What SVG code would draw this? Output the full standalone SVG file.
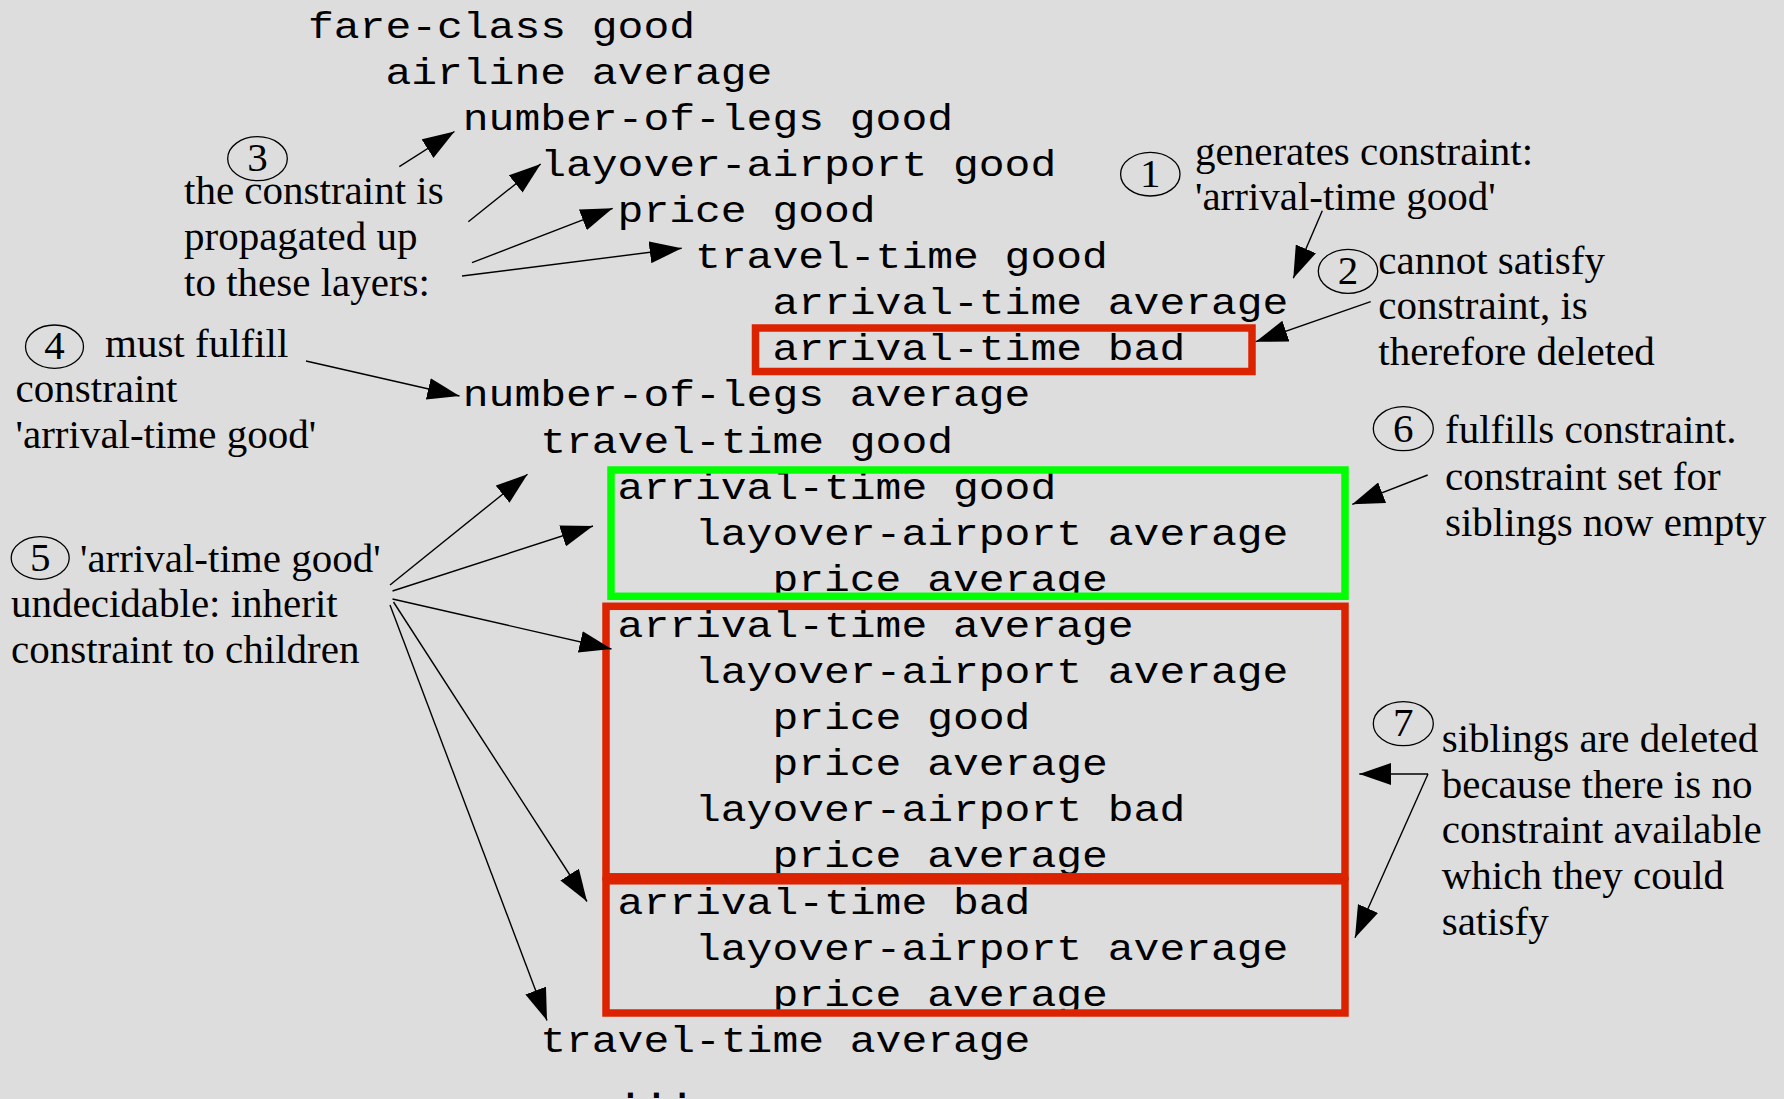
<svg xmlns="http://www.w3.org/2000/svg" width="1784" height="1099" viewBox="0 0 1784 1099">
  <style>
    .mono { font-family: "Liberation Mono", "Courier New", monospace; font-size: 43px; fill: #000; }
    .serif { font-family: "Liberation Serif", "Times New Roman", serif; font-size: 41px; fill: #000; }
    .num { font-family: "Liberation Serif", "Times New Roman", serif; font-size: 41px; fill: #000; text-anchor: middle; }
    .badge { fill: none; stroke: #000; stroke-width: 1.3; }
    .bad { fill: none; stroke: #dc2300; stroke-width: 7.5; }
    .ok { fill: none; stroke: #00ff00; stroke-width: 7.5; }
    .link { fill: none; stroke: #000; stroke-width: 1.4; marker-end: url(#head); }
  </style>
  <defs>
    <marker id="head" markerUnits="userSpaceOnUse" viewBox="0 0 32 22" markerWidth="32" markerHeight="22" refX="32" refY="11" orient="auto">
      <path d="M0,0 L32,11 L0,22 z" fill="#000"/>
    </marker>
  </defs>

  <rect x="0" y="0" width="1784" height="1099" fill="#dddddd"/>

  <!-- search tree, one line per node, indented by depth; glyphs slightly flattened
       (baselines below are divided by the 0.87 vertical scale) -->
  <g id="tree" transform="scale(1,0.87)">
    <text id="n0" class="mono" x="308" y="43.333">fare-class good</text>
    <text id="n1" class="mono" x="385.4" y="96.322">airline average</text>
    <text id="n2" class="mono" x="462.8" y="149.310">number-of-legs good</text>
    <text id="n3" class="mono" x="540.2" y="202.299">layover-airport good</text>
    <text id="n4" class="mono" x="617.6" y="255.287">price good</text>
    <text id="n5" class="mono" x="695" y="308.276">travel-time good</text>
    <text id="n6" class="mono" x="772.4" y="361.264">arrival-time average</text>
    <text id="n7" class="mono" x="772.4" y="414.253">arrival-time bad</text>
    <text id="n8" class="mono" x="462.8" y="467.241">number-of-legs average</text>
    <text id="n9" class="mono" x="540.2" y="520.230">travel-time good</text>
    <text id="n10" class="mono" x="617.6" y="573.218">arrival-time good</text>
    <text id="n11" class="mono" x="695" y="626.207">layover-airport average</text>
    <text id="n12" class="mono" x="772.4" y="679.195">price average</text>
    <text id="n13" class="mono" x="617.6" y="732.184">arrival-time average</text>
    <text id="n14" class="mono" x="695" y="785.172">layover-airport average</text>
    <text id="n15" class="mono" x="772.4" y="838.161">price good</text>
    <text id="n16" class="mono" x="772.4" y="891.149">price average</text>
    <text id="n17" class="mono" x="695" y="944.138">layover-airport bad</text>
    <text id="n18" class="mono" x="772.4" y="997.126">price average</text>
    <text id="n19" class="mono" x="617.6" y="1050.115">arrival-time bad</text>
    <text id="n20" class="mono" x="695" y="1103.103">layover-airport average</text>
    <text id="n21" class="mono" x="772.4" y="1156.092">price average</text>
    <text id="n22" class="mono" x="540.2" y="1209.080">travel-time average</text>
    <text id="n23" class="mono" x="617.6" y="1262.069">...</text>
  </g>

  <!-- highlight frames: deleted (red) and fulfilled (green) -->
  <g id="frames">
    <rect id="frame-deleted-1" class="bad" x="755.5" y="328" width="496.5" height="43.5"/>
    <rect id="frame-fulfilled" class="ok" x="611" y="470" width="734" height="126.3"/>
    <rect id="frame-deleted-2" class="bad" x="606" y="606.3" width="739" height="270.5"/>
    <rect id="frame-deleted-3" class="bad" x="606" y="880.8" width="739" height="132.2"/>
  </g>

  <!-- numbered annotations -->
  <g id="note1">
    <ellipse class="badge" cx="1150.3" cy="174.2" rx="29.7" ry="21.8"/>
    <text class="num" x="1150.3" y="186.5">1</text>
    <text class="serif" x="1195" y="165">generates constraint:</text>
    <text class="serif" x="1195" y="210">'arrival-time good'</text>
  </g>
  <g id="note2">
    <ellipse class="badge" cx="1348" cy="271.3" rx="29.7" ry="22"/>
    <text class="num" x="1348" y="283.5">2</text>
    <text class="serif" x="1378.3" y="273.5">cannot satisfy</text>
    <text class="serif" x="1378.3" y="319">constraint, is</text>
    <text class="serif" x="1378.3" y="364.5">therefore deleted</text>
  </g>
  <g id="note3">
    <ellipse class="badge" cx="257.5" cy="158.7" rx="29.8" ry="22"/>
    <text class="num" x="257.5" y="171">3</text>
    <text class="serif" x="184" y="204">the constraint is</text>
    <text class="serif" x="184" y="250">propagated up</text>
    <text class="serif" x="184" y="296">to these layers:</text>
  </g>
  <g id="note4">
    <ellipse class="badge" cx="54.5" cy="346.7" rx="29" ry="21.7"/>
    <text class="num" x="54.5" y="358.5">4</text>
    <text class="serif" x="105" y="356.7">must fulfill</text>
    <text class="serif" x="15.6" y="402">constraint</text>
    <text class="serif" x="15.6" y="447.5">'arrival-time good'</text>
  </g>
  <g id="note5">
    <ellipse class="badge" cx="40.2" cy="558" rx="29" ry="21.3"/>
    <text class="num" x="40.2" y="570.5">5</text>
    <text class="serif" x="80" y="571.7">'arrival-time good'</text>
    <text class="serif" x="11" y="617">undecidable: inherit</text>
    <text class="serif" x="11" y="663">constraint to children</text>
  </g>
  <g id="note6">
    <ellipse class="badge" cx="1403.3" cy="428.7" rx="30" ry="22"/>
    <text class="num" x="1403.3" y="441.5">6</text>
    <text class="serif" x="1445" y="443.3">fulfills constraint.</text>
    <text class="serif" x="1445" y="489.5">constraint set for</text>
    <text class="serif" x="1445" y="535.5">siblings now empty</text>
  </g>
  <g id="note7">
    <ellipse class="badge" cx="1403.3" cy="723.7" rx="30" ry="22"/>
    <text class="num" x="1403.3" y="736">7</text>
    <text class="serif" x="1441.7" y="751.7">siblings are deleted</text>
    <text class="serif" x="1441.7" y="797.5">because there is no</text>
    <text class="serif" x="1441.7" y="843.3">constraint available</text>
    <text class="serif" x="1441.7" y="889.1">which they could</text>
    <text class="serif" x="1441.7" y="935">satisfy</text>
  </g>

  <!-- connectors from annotations to tree lines -->
  <g id="connectors">
    <path class="link" d="M1322.3,210.7 L1293.3,278.3"/>
    <path class="link" d="M1370.7,301.7 L1255.7,341.7"/>
    <path class="link" d="M399.3,166.7 L454.5,131.5"/>
    <path class="link" d="M468.3,221.7 L540.7,164"/>
    <path class="link" d="M472,262.7 L612.7,208.3"/>
    <path class="link" d="M462,276 L681.7,248.3"/>
    <path class="link" d="M306,361 L459.5,396"/>
    <path class="link" d="M390,585 L527.5,474.2"/>
    <path class="link" d="M392.5,591 L593,526"/>
    <path class="link" d="M392.5,599 L611.5,649"/>
    <path class="link" d="M393.5,602 L587,901.5"/>
    <path class="link" d="M390,605 L547,1020.5"/>
    <path class="link" d="M1427.7,475 L1352.3,504.3"/>
    <path class="link" d="M1428,774 L1359.3,774"/>
    <path class="link" d="M1428,774 L1355,937.7"/>
  </g>
</svg>
